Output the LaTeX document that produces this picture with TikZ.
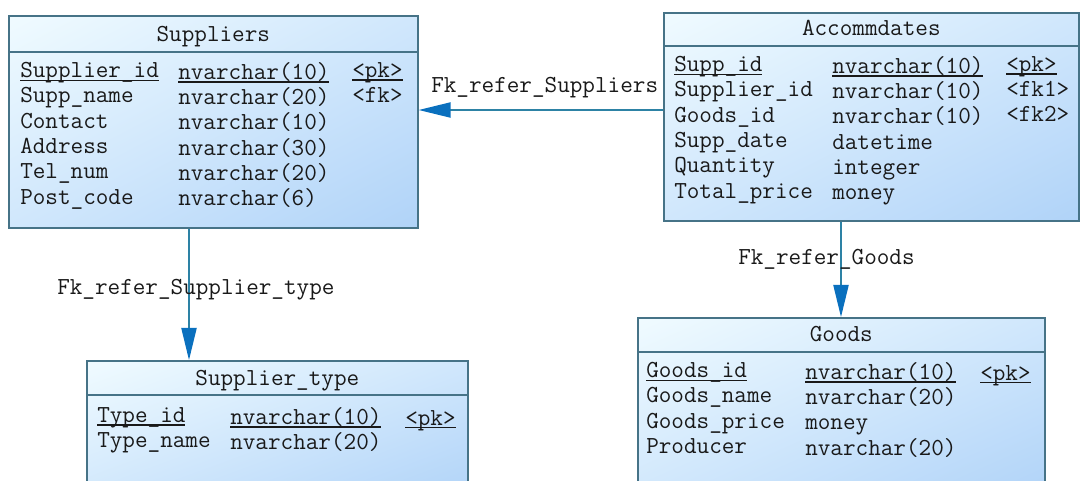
\documentclass[tikz,border=0pt]{standalone}
\usetikzlibrary{arrows.meta, positioning, shadings}
\definecolor{tabline}{RGB}{70,115,135}
\definecolor{tabtop}{RGB}{240,251,255}
\definecolor{tabmid}{RGB}{208,231,252}
\definecolor{tabbot}{RGB}{176,211,248}
\definecolor{fkline}{RGB}{45,130,165}
\definecolor{fkhead}{RGB}{10,112,190}
\definecolor{txt}{RGB}{25,25,25}
\newcommand{\keyline}[1]{\setbox0=\hbox{#1}\rlap{\rule[-2.4pt]{\wd0}{0.9pt}}\box0}

\begin{document}
\begin{tikzpicture}[
        x=0.025cm, y=-0.025cm,
        tab/.style={rectangle, draw=tabline, line width=1.1pt, upper left=tabtop, upper right=tabmid, lower left=tabmid, lower right=tabbot, anchor=north west, inner sep=0pt},
        tabsep/.style={draw=tabline, line width=1.1pt},
        tabtitle/.style={anchor=base, inner sep=0pt, font=\ttfamily\fontsize{17.4}{18}\selectfont, text=txt},
        col/.style={anchor=north west, inner sep=0pt, align=left, font=\ttfamily\fontsize{17.4}{18}\selectfont, text=txt, execute at begin node=\strut},
        fk/.style={-{Triangle[length=0.8cm, width=0.38cm, color=fkhead]}, line width=1pt, color=fkline},
        fklabel/.style={anchor=base west, inner sep=0pt, font=\ttfamily\fontsize{17.4}{18}\selectfont, text=txt}
    ]
    \useasboundingbox (0,0) rectangle (1081,481);
    \clip (0,0) rectangle (1081,481);

    %% --- Suppliers ---
    \node[tab, minimum width=10.225cm, minimum height=5.3cm] (sup) at (8,15) {};
    \draw[tabsep] (sup.west |- 0,52) -- (sup.east |- 0,52);
    \node[tabtitle] (suptitle) at (sup.north |- 0,41) {Suppliers};
    %% column tops sit one strut above the first baseline
    \node[col] (supname) at (20,62)
        {\keyline{Supplier\_id}\\Supp\_name\\Contact\\Address\\Tel\_num\\Post\_code};
    \node[col] (suptype) at (178,62)
        {\keyline{nvarchar(10)}\\nvarchar(20)\\nvarchar(10)\\nvarchar(30)\\nvarchar(20)\\nvarchar(6)};
    \node[col] (supkey) at (352,62) {\keyline{<pk>}\\<fk>};

    %% --- Accommdates ---
    \node[tab, minimum width=10.375cm, minimum height=5.2cm] (acc) at (663,12) {};
    \draw[tabsep] (acc.west |- 0,46) -- (acc.east |- 0,46);
    \node[tabtitle] (acctitle) at (acc.north |- 0,35) {Accommdates};
    \node[col] (accname) at (674,56)
        {\keyline{Supp\_id}\\Supplier\_id\\Goods\_id\\Supp\_date\\Quantity\\Total\_price};
    \node[col] (acctype) at (832,56)
        {\keyline{nvarchar(10)}\\nvarchar(10)\\nvarchar(10)\\datetime\\integer\\money};
    \node[col] (acckey) at (1006,56) {\keyline{<pk>}\\<fk1>\\<fk2>};

    %% --- Supplier_type (runs off the bottom edge) ---
    \node[tab, minimum width=9.525cm, minimum height=3.5cm] (stype) at (86,360) {};
    \draw[tabsep] (stype.west |- 0,395) -- (stype.east |- 0,395);
    \node[tabtitle] (stypetitle) at (stype.north |- 0,385) {Supplier\_type};
    \node[col] (stypename) at (97,407) {\keyline{Type\_id}\\Type\_name};
    \node[col] (stypetype) at (230,407) {\keyline{nvarchar(10)}\\nvarchar(20)};
    \node[col] (stypekey)  at (405,407) {\keyline{<pk>}};

    %% --- Goods (runs off the bottom edge) ---
    \node[tab, minimum width=10.175cm, minimum height=4.5cm] (goods) at (637,317) {};
    \draw[tabsep] (goods.west |- 0,352) -- (goods.east |- 0,352);
    \node[tabtitle] (goodstitle) at (goods.north |- 0,341) {Goods};
    \node[col] (goodsname) at (646,362)
        {\keyline{Goods\_id}\\Goods\_name\\Goods\_price\\Producer};
    \node[col] (goodstype) at (805,362)
        {\keyline{nvarchar(10)}\\nvarchar(20)\\money\\nvarchar(20)};
    \node[col] (goodskey) at (980,362) {\keyline{<pk>}};

    %% --- References (child -> parent) ---
    \draw[fk] (acc.west |- 0,110) -- (sup.east |- 0,110);
    \draw[fk] (sup.south -| 189,0) -- (stype.north -| 189,0);
    \draw[fk] (acc.south -| 841,0) -- (goods.north -| 841,0);

    %% --- Reference labels ---
    \node[fklabel] (lsup)   at (431,92)  {Fk\_refer\_Suppliers};
    \node[fklabel] (ltype)  at (57,294)  {Fk\_refer\_Supplier\_type};
    \node[fklabel] (lgoods) at (738,264) {Fk\_refer\_Goods};

\end{tikzpicture}
\end{document}
